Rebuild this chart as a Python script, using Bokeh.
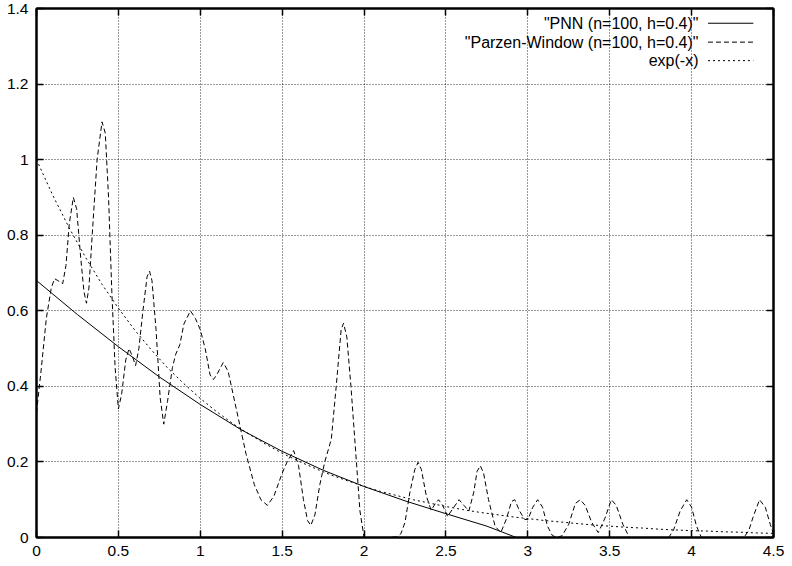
from bokeh.plotting import figure
from bokeh.models import Range1d, LinearAxis, FixedTicker, Label, Arrow
from bokeh.embed import file_html
from bokeh.resources import INLINE

# ---------------- data ----------------
x_ticks = [0, 0.5, 1, 1.5, 2, 2.5, 3, 3.5, 4, 4.5]
x_tick_labels = ["0", "0.5", "1", "1.5", "2", "2.5", "3", "3.5", "4", "4.5"]
y_ticks = [0, 0.2, 0.4, 0.6, 0.8, 1.0, 1.2, 1.4]
y_tick_labels = ["0", "0.2", "0.4", "0.6", "0.8", "1", "1.2", "1.4"]

series_names = ['"PNN (n=100, h=0.4)"', '"Parzen-Window (n=100, h=0.4)"', 'exp(-x)']

pnn_x = [0.0, 0.25, 0.5, 0.75, 1.0, 1.25, 1.5, 1.75, 2.0, 2.25, 2.5, 2.75, 2.93, 3.0, 3.5, 4.0, 4.5]
pnn_y = [0.68, 0.59, 0.505, 0.425, 0.352, 0.285, 0.228, 0.178, 0.135, 0.097, 0.063, 0.03, 0.0, 0.0, 0.0, 0.0, 0.0]

parzen_x = [0.00, 0.03, 0.06, 0.09, 0.11, 0.13, 0.16, 0.18, 0.20, 0.225, 0.245, 0.27, 0.29, 0.305,
            0.32, 0.34, 0.37, 0.40, 0.42, 0.44, 0.46, 0.48, 0.50, 0.52, 0.545, 0.565, 0.585, 0.605,
            0.625, 0.65, 0.675, 0.69, 0.705, 0.73, 0.755, 0.777, 0.80, 0.83, 0.85, 0.875, 0.90, 0.94,
            0.97, 1.00, 1.03, 1.06, 1.08, 1.10, 1.14, 1.17, 1.20, 1.24, 1.28, 1.33, 1.37, 1.41, 1.45,
            1.50, 1.53, 1.57, 1.60, 1.63, 1.655, 1.675, 1.70, 1.73, 1.76, 1.80, 1.83, 1.86, 1.875,
            1.895, 1.92, 1.95, 1.975, 2.00, 2.05, 2.15, 2.20, 2.225, 2.25, 2.28, 2.31, 2.33, 2.35,
            2.38, 2.41, 2.435, 2.455, 2.48, 2.51, 2.54, 2.58, 2.61, 2.64, 2.67, 2.69, 2.71, 2.73,
            2.76, 2.80, 2.835, 2.87, 2.90, 2.92, 2.95, 2.98, 3.00, 3.03, 3.06, 3.09, 3.12, 3.15,
            3.18, 3.21, 3.25, 3.29, 3.32, 3.35, 3.39, 3.43, 3.47, 3.51, 3.54, 3.58, 3.62, 3.86,
            3.89, 3.93, 3.97, 4.00, 4.03, 4.06, 4.32, 4.35, 4.38, 4.415, 4.45, 4.48, 4.50]
parzen_y = [0.33, 0.45, 0.58, 0.66, 0.685, 0.68, 0.672, 0.72, 0.83, 0.90, 0.87, 0.74, 0.65, 0.62,
            0.66, 0.80, 1.00, 1.10, 1.07, 0.90, 0.65, 0.45, 0.34, 0.38, 0.47, 0.50, 0.48, 0.455,
            0.50, 0.60, 0.69, 0.705, 0.68, 0.55, 0.37, 0.30, 0.36, 0.45, 0.485, 0.51, 0.565, 0.60,
            0.58, 0.55, 0.50, 0.43, 0.418, 0.43, 0.463, 0.44, 0.38, 0.30, 0.22, 0.14, 0.10, 0.085, 0.11,
            0.17, 0.20, 0.23, 0.19, 0.10, 0.045, 0.032, 0.06, 0.14, 0.20, 0.26, 0.40, 0.55, 0.567,
            0.53, 0.40, 0.22, 0.07, 0.00, 0.00, 0.00, 0.002, 0.01, 0.04, 0.12, 0.18, 0.199, 0.18,
            0.11, 0.072, 0.09, 0.10, 0.085, 0.056, 0.075, 0.10, 0.085, 0.07, 0.12, 0.175, 0.19, 0.17,
            0.10, 0.03, 0.013, 0.05, 0.095, 0.10, 0.07, 0.048, 0.047, 0.08, 0.10, 0.08, 0.03, 0.005,
            0.00, 0.005, 0.035, 0.09, 0.10, 0.085, 0.04, 0.013, 0.05, 0.10, 0.085, 0.035, 0.00, 0.00,
            0.02, 0.07, 0.10, 0.08, 0.03, 0.00, 0.00, 0.02, 0.06, 0.10, 0.08, 0.035, 0.01]

exp_x = [0.0, 0.1, 0.2, 0.3, 0.4, 0.5, 0.6, 0.7, 0.8, 0.9, 1.0, 1.1, 1.2, 1.3, 1.4, 1.5,
         1.6, 1.7, 1.8, 1.9, 2.0, 2.1, 2.2, 2.3, 2.4, 2.5, 2.6, 2.7, 2.8, 2.9, 3.0, 3.1,
         3.2, 3.3, 3.4, 3.5, 3.6, 3.7, 3.8, 3.9, 4.0, 4.1, 4.2, 4.3, 4.4, 4.5]
exp_y = [1.000, 0.905, 0.819, 0.741, 0.670, 0.607, 0.549, 0.497, 0.449, 0.407, 0.368, 0.333,
         0.301, 0.273, 0.247, 0.223, 0.202, 0.183, 0.165, 0.150, 0.135, 0.122, 0.111, 0.100,
         0.091, 0.082, 0.074, 0.067, 0.061, 0.055, 0.050, 0.045, 0.041, 0.037, 0.033, 0.030,
         0.027, 0.025, 0.022, 0.020, 0.018, 0.017, 0.015, 0.014, 0.012, 0.011]

# ---------------- figure ----------------
FONT = "Liberation Sans"

p = figure(width=790, height=564, x_range=Range1d(0, 4.5), y_range=Range1d(0, 1.4),
           output_backend="svg", toolbar_location=None,
           min_border_left=36, min_border_right=17, min_border_top=8, min_border_bottom=27)
p.background_fill_color = "white"
p.border_fill_color = "white"
p.outline_line_color = "black"
p.outline_line_width = 2

x_over = {t: s for t, s in zip(x_ticks, x_tick_labels)}
y_over = {t: s for t, s in zip(y_ticks, y_tick_labels)}


def style_axis(ax, ticks, over, show_labels):
    ax.ticker = FixedTicker(ticks=ticks)
    ax.major_label_overrides = over
    ax.minor_tick_line_color = None
    ax.major_tick_in = 7
    ax.major_tick_out = 0
    ax.major_tick_line_color = "black"
    ax.major_tick_line_width = 1.5
    ax.axis_line_color = "black"
    ax.axis_line_width = 2
    ax.major_label_text_font = FONT
    if show_labels:
        ax.major_label_text_color = "black"
        ax.major_label_text_font_size = "15.5px"
        ax.major_label_standoff = 8
    else:
        # mirrored tick marks only (gnuplot style), labels not drawn
        ax.major_label_text_color = None
        ax.major_label_text_font_size = "1px"
        ax.major_label_standoff = 0


style_axis(p.xaxis[0], x_ticks, x_over, True)
style_axis(p.yaxis[0], y_ticks, y_over, True)
top_ax = LinearAxis()
style_axis(top_ax, x_ticks, x_over, False)
p.add_layout(top_ax, "above")
right_ax = LinearAxis()
style_axis(right_ax, y_ticks, y_over, False)
p.add_layout(right_ax, "right")

for g in (p.xgrid[0], p.ygrid[0]):
    g.grid_line_color = "black"
    g.grid_line_alpha = 0.8
    g.grid_line_dash = "1 2"
    g.grid_line_width = 1
p.xgrid[0].ticker = FixedTicker(ticks=x_ticks)
p.ygrid[0].ticker = FixedTicker(ticks=y_ticks)

dashes = ["solid", "5 3", "2 3"]
p.line(pnn_x, pnn_y, line_color="black", line_width=1, line_dash=dashes[0])
p.line(parzen_x, parzen_y, line_color="black", line_width=1, line_dash=dashes[1])
p.line(exp_x, exp_y, line_color="black", line_width=1, line_dash=dashes[2])

# gnuplot-style key: text right-aligned, sample line to its right
leg_text_x = 4.042
leg_line_x0 = 4.10
leg_line_x1 = 4.377
leg_ys = [1.361, 1.311, 1.262]
for name, dash, yy in zip(series_names, dashes, leg_ys):
    p.add_layout(Label(x=leg_text_x, y=yy, text=name, text_align="right",
                       text_baseline="middle", text_font=FONT, text_font_size="16px",
                       text_color="black"))
    p.add_layout(Arrow(x_start=leg_line_x0, y_start=yy, x_end=leg_line_x1, y_end=yy,
                       end=None, line_color="black", line_width=1, line_dash=dash))

open("out.html", "w").write(file_html(p, INLINE))
